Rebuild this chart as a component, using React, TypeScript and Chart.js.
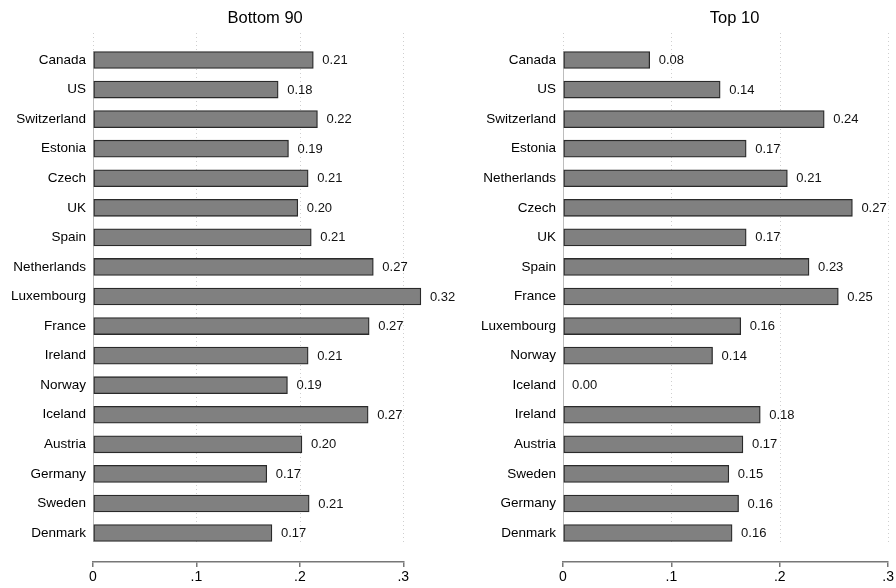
import React, { useEffect, useRef } from 'react';
import { Chart, registerables } from 'chart.js';

Chart.register(...registerables);

const FONT = '"Liberation Sans", Arial, Helvetica, sans-serif';

// Bottom 90 panel
const bottomCountries = [
  'Canada', 'US', 'Switzerland', 'Estonia', 'Czech', 'UK', 'Spain', 'Netherlands',
  'Luxembourg', 'France', 'Ireland', 'Norway', 'Iceland', 'Austria', 'Germany', 'Sweden', 'Denmark',
];
const bottomValues = [
  0.213, 0.179, 0.217, 0.189, 0.208, 0.198, 0.211, 0.271,
  0.317, 0.267, 0.208, 0.188, 0.266, 0.202, 0.168, 0.209, 0.173,
];

// Top 10 panel
const topCountries = [
  'Canada', 'US', 'Switzerland', 'Estonia', 'Netherlands', 'Czech', 'UK', 'Spain',
  'France', 'Luxembourg', 'Norway', 'Iceland', 'Ireland', 'Austria', 'Sweden', 'Germany', 'Denmark',
];
const topValues = [
  0.080, 0.145, 0.241, 0.169, 0.207, 0.267, 0.169, 0.227,
  0.254, 0.164, 0.138, 0.0, 0.182, 0.166, 0.153, 0.162, 0.156,
];

const xTicks = [0, 0.1, 0.2, 0.3];

const fmtTick = (v: number) => (v === 0 ? '0' : v.toFixed(1).replace(/^0/, ''));

interface PanelProps {
  title: string;
  countries: string[];
  values: number[];
  yWidth: number;
  padRight: number;
  titleShift: number;
}

const Panel: React.FC<PanelProps> = ({ title, countries, values, yWidth, padRight, titleShift }) => {
  const canvasRef = useRef<HTMLCanvasElement>(null);
  const chartRef = useRef<Chart | null>(null);

  useEffect(() => {
    if (!canvasRef.current) return;
    chartRef.current?.destroy();

    // dotted grid, zero line, panel title and value labels
    const decor = {
      id: 'decor',
      beforeDatasetsDraw(chart: any) {
        const { ctx, chartArea, scales } = chart;
        const x = scales.x;
        const y = scales.y;
        ctx.save();
        ctx.strokeStyle = '#cfcfcf';
        ctx.lineWidth = 1;
        ctx.setLineDash([1, 3]);
        xTicks.forEach(t => {
          const px = Math.round(x.getPixelForValue(t)) + 0.5;
          ctx.beginPath();
          ctx.moveTo(px, chartArea.top);
          ctx.lineTo(px, chartArea.bottom - 17);
          ctx.stroke();
        });
        ctx.setLineDash([]);
        ctx.strokeStyle = '#bdbdbd';
        const zx = Math.round(x.getPixelForValue(0)) + 0.5;
        ctx.beginPath();
        ctx.moveTo(zx, y.getPixelForValue(-0.3));
        ctx.lineTo(zx, y.getPixelForValue(countries.length - 0.7));
        ctx.stroke();
        ctx.restore();
      },
      afterDatasetsDraw(chart: any) {
        const { ctx, chartArea } = chart;
        const meta = chart.getDatasetMeta(0);
        ctx.save();
        ctx.fillStyle = '#111';
        ctx.font = `13px ${FONT}`;
        ctx.textAlign = 'left';
        ctx.textBaseline = 'middle';
        meta.data.forEach((bar: any, i: number) => {
          ctx.fillText(values[i].toFixed(2), bar.x + 9, bar.y + 0.5);
        });
        ctx.font = `16.5px ${FONT}`;
        ctx.textAlign = 'center';
        ctx.fillStyle = '#000';
        ctx.fillText(title, (chartArea.left + chartArea.right) / 2 + titleShift, 18);
        ctx.restore();
      },
    };

    chartRef.current = new Chart(canvasRef.current, {
      type: 'bar',
      data: {
        datasets: [
          {
            data: values.map((v, i) => ({ x: v, y: i })),
            backgroundColor: '#808080',
            borderColor: '#2a2a2a',
            borderWidth: 1.3,
            borderSkipped: false,
            barThickness: 17,
            clip: false,
          } as any,
        ],
      },
      options: {
        indexAxis: 'y',
        animation: false,
        responsive: true,
        maintainAspectRatio: false,
        layout: { padding: { top: 33, right: padRight, bottom: 0, left: 0 } },
        plugins: {
          legend: { display: false },
          tooltip: { enabled: false },
          title: { display: false },
        },
        scales: {
          x: {
            type: 'linear',
            min: 0,
            max: 0.3,
            grid: { display: true, drawOnChartArea: false, drawTicks: true, tickLength: 5, color: '#777', lineWidth: 1.5 },
            border: { display: true, color: '#777', width: 1.5 },
            ticks: {
              stepSize: 0.1,
              color: '#000',
              font: { family: FONT, size: 14 },
              padding: 2,
              maxRotation: 0,
              callback: v => fmtTick(Number(v)),
            },
            afterFit: (s: any) => { s.height = 26; },
          },
          y: {
            type: 'linear',
            reverse: true,
            offset: false,
            min: -0.913,
            max: 16.98,
            grid: { display: false, drawTicks: false, offset: false },
            border: { display: false },
            ticks: {
              stepSize: 1,
              autoSkip: false,
              color: '#000',
              font: { family: FONT, size: 13.5 },
              padding: 7,
              callback: v => (Number.isInteger(Number(v)) ? countries[Number(v)] ?? '' : ''),
            },
            afterFit: (s: any) => { s.width = yWidth; },
          },
        },
      },
      plugins: [decor],
    });

    return () => { chartRef.current?.destroy(); };
  }, [title, countries, values, yWidth, padRight, titleShift]);

  return <canvas ref={canvasRef} />;
};

const App: React.FC = () => {
  useEffect(() => {
    document.body.style.margin = '0';
  }, []);

  return (
    <div style={{ position: 'relative', width: 896, height: 588, background: '#fff', overflow: 'hidden' }}>
      <div style={{ position: 'absolute', left: 448, top: 0, width: 448, height: 588 }}>
        <Panel title="Top 10" countries={topCountries} values={topValues} yWidth={115} padRight={6} titleShift={9} />
      </div>
      <div style={{ position: 'absolute', left: 0, top: 0, width: 470, height: 588 }}>
        <Panel title="Bottom 90" countries={bottomCountries} values={bottomValues} yWidth={93} padRight={66.7} titleShift={17} />
      </div>
    </div>
  );
};

export default App;
